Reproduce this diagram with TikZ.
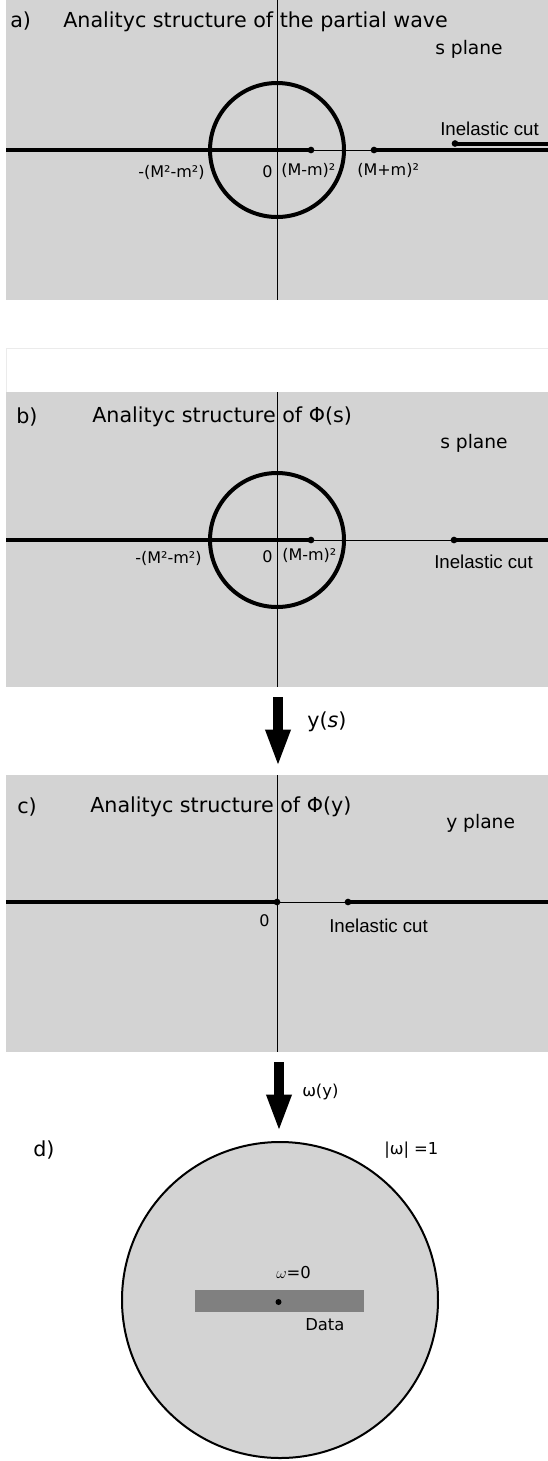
\documentclass[tikz,border=0pt]{standalone}
\usepackage{fontspec}
\setmainfont{DejaVu Sans}
\newfontfamily\arialf{Liberation Sans}
\usetikzlibrary{arrows.meta}
\definecolor{panelgray}{RGB}{211,211,211}
\definecolor{datagray}{RGB}{128,128,128}
\begin{document}
\begin{tikzpicture}[x=0.75pt,y=-0.75pt,
 panel/.style={fill=panelgray, draw=none},
 axis/.style={line width=0.75pt},
 cut/.style={line width=3pt},
 circ/.style={line width=3pt},
 pt/.style={circle, fill=black, inner sep=0pt, minimum size=5pt},
 title/.style={anchor=west, inner sep=0pt, font=\fontsize{15.5}{17}\selectfont},
 plane/.style={anchor=west, inner sep=0pt, font=\fontsize{14}{16}\selectfont},
 lbl/.style={anchor=west, inner sep=0pt, font=\fontsize{12}{14}\selectfont},
 arl/.style={anchor=west, inner sep=0pt, font=\arialf\fontsize{14}{16}\selectfont},
 small/.style={anchor=west, inner sep=0pt, font=\fontsize{12.3}{14}\selectfont},
 bigarrow/.style={-{Triangle[width=17pt,length=28pt]}, line width=8pt}
]
\useasboundingbox (0,0) rectangle (548,1461);

% ---------- panel a ----------
\fill[panel] (6,0) rectangle (548,300);
\draw[axis] (277,0) -- (277,300);
\draw[axis] (6,150) -- (548,150);
\draw[cut] (6,150) -- (311,150);
\draw[cut] (374,150) -- (548,150);
\draw[circ] (277,150) circle[radius=67];
\node[pt] (aMm) at (311,150) {};
\node[pt] (aMp) at (374,150) {};
\node[pt] (aIn) at (455,143.5) {};
\coordinate (aInEnd) at (548,143.5);
\draw[cut] (aIn.center) -- (aInEnd);
\node[title] (alab) at (10,21) {a)};
\node[title] (atitle) at (63,22) {Analityc structure of the partial wave};
\node[plane] (aplane) at (435,49) {s plane};
\node[arl] (ainel) at (440,129) {Inelastic cut};
\node[lbl] (aneg) at (138,172) {-(M²-m²)};
\node[lbl] (azero) at (262,172) {0};
\node[lbl] (amm) at (281,170) {(M-m)²};
\node[lbl] (amp) at (357,170) {(M+m)²};

% faint white frame
\draw[black!8, line width=0.5pt] (6,392) -- (6,348) -- (548,348);

% ---------- panel b ----------
\fill[panel] (6,392) rectangle (548,687);
\draw[axis] (277,392) -- (277,687);
\draw[axis] (6,540) -- (548,540);
\draw[cut] (6,540) -- (311,540);
\draw[cut] (454,540) -- (548,540);
\draw[circ] (277,540) circle[radius=67];
\node[pt] (bMm) at (311,540) {};
\node[pt] (bIn) at (454,540) {};
\node[title] (blab) at (16,417) {b)};
\node[title] (btitle) at (92,417) {Analityc structure of Φ(s)};
\node[plane] (bplane) at (440,443) {s plane};
\node[lbl] (bneg) at (135,558) {-(M²-m²)};
\node[lbl] (bzero) at (262,557) {0};
\node[lbl] (bmm) at (282,555) {(M-m)²};
\node[arl] (binel) at (434,562) {Inelastic cut};

% ---------- arrow 1 ----------
\coordinate (ar1s) at (278,697);
\coordinate (ar1e) at (278,767);
\draw[bigarrow] (ar1s) -- (ar1e);
\node[title] (ys) at (307,722) {y(\textit{s})};

% ---------- panel c ----------
\fill[panel] (6,775) rectangle (548,1052);
\draw[axis] (277,775) -- (277,1052);
\draw[axis] (6,902) -- (548,902);
\draw[cut] (6,902) -- (277,902);
\draw[cut] (348,902) -- (548,902);
\node[pt] (cO) at (277,902) {};
\node[pt] (cIn) at (348,902) {};
\node[title] (clab) at (17,807) {c)};
\node[title] (ctitle) at (90,807) {Analityc structure of Φ(y)};
\node[plane] (cplane) at (446,823) {y plane};
\node[lbl] (czero) at (259,921) {0};
\node[arl] (cinel) at (329,926) {Inelastic cut};

% ---------- arrow 2 ----------
\coordinate (ar2s) at (279,1062);
\coordinate (ar2e) at (279,1132);
\draw[bigarrow] (ar2s) -- (ar2e);
\node[small] (wy) at (302,1092) {ω(y)};

% ---------- panel d ----------
\draw[line width=1.5pt, fill=panelgray] (280,1300) circle[radius=158];
\fill[datagray] (195,1290) rectangle (364,1312);
\node[pt, minimum size=4.5pt] (w0) at (278.5,1302) {};
\node[title] (dlab) at (33,1150) {d)};
\node[small] (wone) at (384,1150) {|ω| =1};
\node[small] (wzero) at (276,1273) {$\omega$=0};
\node[small] (data) at (305,1325) {Data};
\end{tikzpicture}
\end{document}
